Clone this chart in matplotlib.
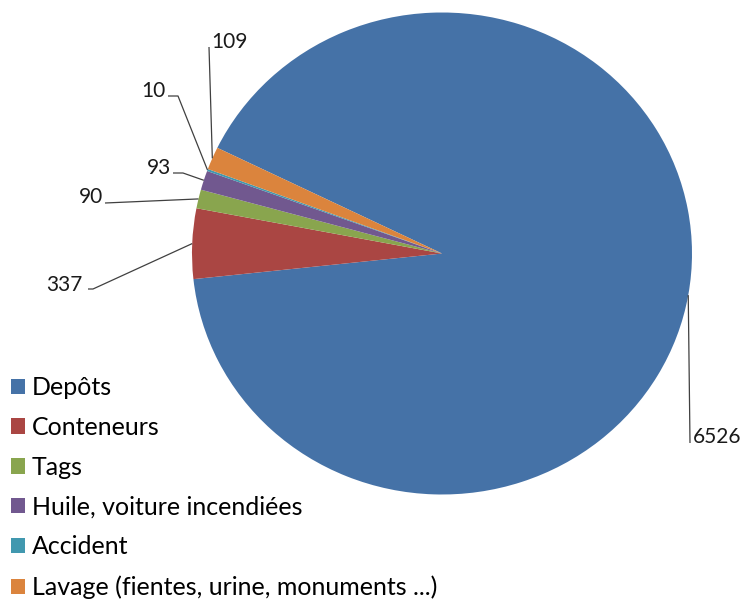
import matplotlib.pyplot as plt
import numpy as np

# data
categories = ["Depôts", "Conteneurs", "Tags", "Huile, voiture incendiées",
              "Accident", "Lavage (fientes, urine, monuments ...)"]
values = [6526, 337, 90, 93, 10, 109]
colors = ["#4572A7", "#AA4643", "#89A54E", "#71588F", "#4198AF", "#DB843D"]

plt.rcParams['font.family'] = ['Lato', 'DejaVu Sans']

W, H = 743, 599
CX, CY = 442, 253.5      # pie centre in pixels
RX, RY = 250, 241        # pie radii in pixels


def px(x, y):
    """pixel (from top-left) -> data coords"""
    return (x - CX) / RX, (CY - y) / RY


fig = plt.figure(figsize=(W / 100, H / 100), dpi=100)
ax = fig.add_axes([0, 0, 1, 1])
wedges, _ = ax.pie(values, colors=colors, startangle=154, counterclock=False,
                   radius=1, center=(0, 0), wedgeprops=dict(linewidth=0))
ax.set_aspect('auto')
ax.set_xlim(-CX / RX, (W - CX) / RX)
ax.set_ylim(-(H - CY) / RY, CY / RY)
ax.axis('off')

# label layout: leader line points after the pie edge, text anchor, alignment
layout = [
    ([(690, 443)], (693, 437), 'left'),
    ([(93, 289), (88, 289)], (83, 285), 'right'),
    ([(105, 203)], (103, 197), 'right'),
    ([(183, 173), (173, 173)], (171, 168), 'right'),
    ([(178, 96), (168, 96)], (166, 91), 'right'),
    ([(209, 47)], (211, 42), 'left'),
]

for w, v, (pts, (tx, ty), ha) in zip(wedges, values, layout):
    mid = np.deg2rad((w.theta1 + w.theta2) / 2)
    xs = [np.cos(mid)] + [px(*p)[0] for p in pts]
    ys = [np.sin(mid)] + [px(*p)[1] for p in pts]
    ax.plot(xs, ys, color='#404040', lw=0.9, solid_capstyle='butt')
    ax.text(*px(tx, ty), str(v), ha=ha, va='center', fontsize=15, color='#1a1a1a')

fig.legend(wedges, categories, loc='upper left',
           bbox_to_anchor=(11 / W, 1 - 376 / H), frameon=False,
           fontsize=18, handlelength=0.56, handleheight=0.56,
           handletextpad=0.28, labelspacing=0.675, borderpad=0,
           borderaxespad=0)

fig.savefig("out.png", dpi=100)
